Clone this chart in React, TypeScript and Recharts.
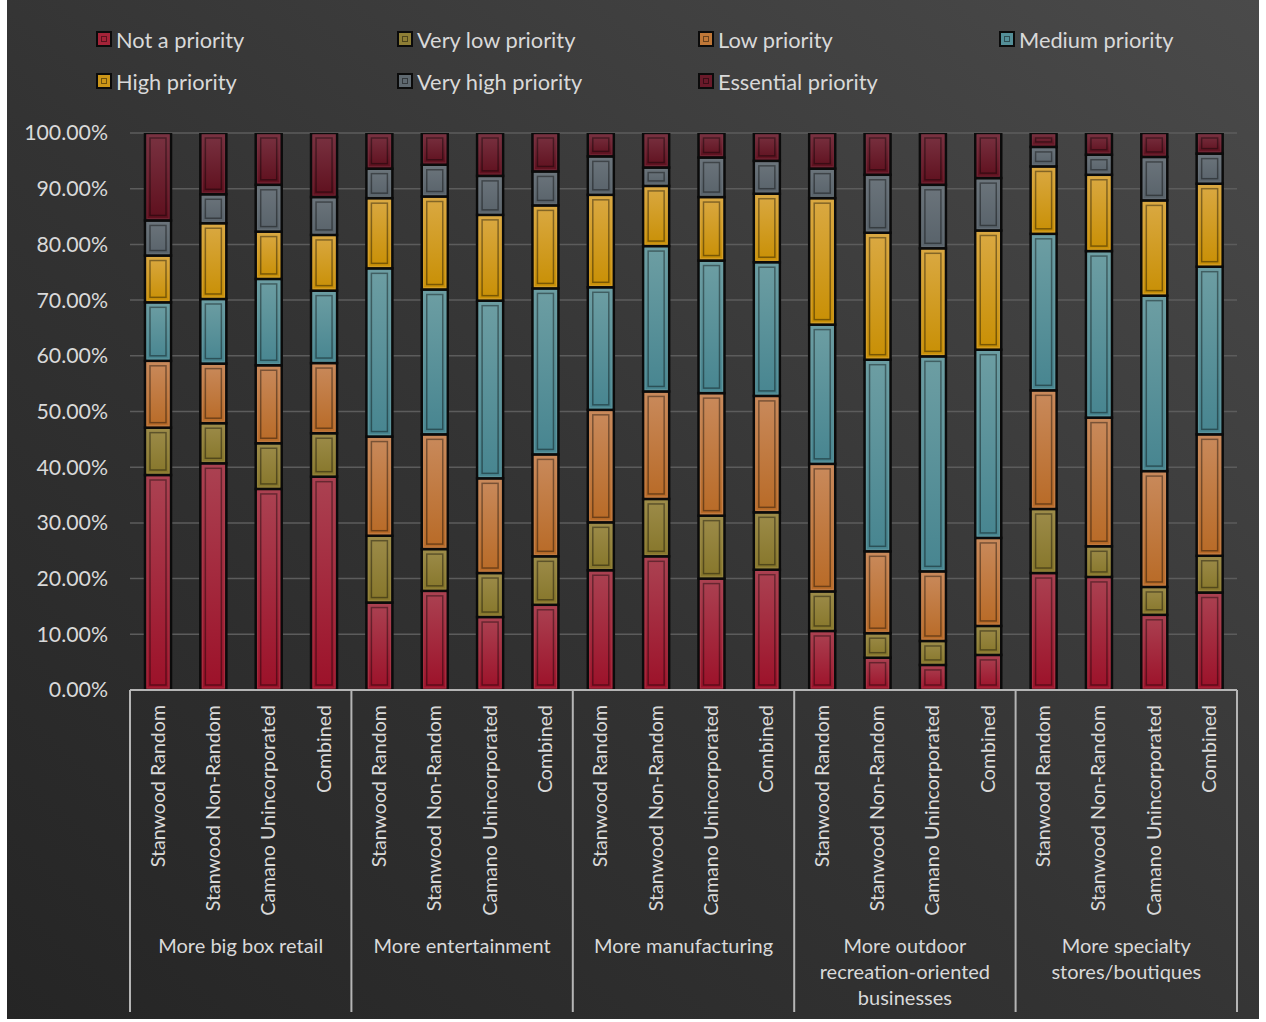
import React from 'react';
import { BarChart, Bar, XAxis, YAxis, CartesianGrid } from 'recharts';

const groupLabelLines: string[][] = [
  ['More big box retail'],
  ['More entertainment'],
  ['More manufacturing'],
  ['More outdoor', 'recreation-oriented', 'businesses'],
  ['More specialty', 'stores/boutiques'],
];
const respondentGroups = ['Stanwood Random', 'Stanwood Non-Random', 'Camano Unincorporated', 'Combined'];

const seriesNames = [
  'Not a priority',
  'Very low priority',
  'Low priority',
  'Medium priority',
  'High priority',
  'Very high priority',
  'Essential priority',
];

// values in percent, 20 bars: 5 topics x 4 respondent groups
const notAPriority = [38.6, 40.7, 36.1, 38.3, 15.7, 17.8, 13.1, 15.3, 21.5, 24.0, 20.0, 21.6, 10.6, 5.8, 4.5, 6.3, 21.0, 20.3, 13.5, 17.5];
const veryLowPriority = [8.5, 7.2, 8.2, 7.8, 12.0, 7.5, 7.9, 8.7, 8.6, 10.3, 11.3, 10.3, 7.1, 4.4, 4.3, 5.2, 11.5, 5.5, 5.0, 6.6];
const lowPriority = [12.0, 10.7, 14.0, 12.6, 17.8, 20.6, 17.0, 18.3, 20.2, 19.3, 22.0, 20.9, 22.9, 14.7, 12.5, 15.8, 21.3, 23.1, 20.8, 21.8];
const mediumPriority = [10.5, 11.6, 15.5, 13.0, 30.2, 26.0, 31.9, 29.8, 22.0, 26.1, 23.8, 24.0, 25.0, 34.4, 38.6, 33.8, 28.1, 29.9, 31.5, 30.1];
const highPriority = [8.4, 13.6, 8.5, 10.0, 12.6, 16.7, 15.4, 14.9, 16.6, 10.8, 11.4, 12.3, 22.7, 22.8, 19.4, 21.4, 12.1, 13.7, 17.1, 14.9];
const veryHighPriority = [6.3, 5.2, 8.4, 6.8, 5.3, 5.7, 7.0, 6.1, 6.9, 3.3, 7.1, 5.9, 5.3, 10.4, 11.4, 9.4, 3.5, 3.6, 7.8, 5.4];
const essentialPriority = [15.7, 11.0, 9.3, 11.5, 6.4, 5.7, 7.7, 6.9, 4.2, 6.2, 4.4, 5.0, 6.4, 7.5, 9.3, 8.1, 2.5, 3.9, 4.3, 3.7];

const seriesValues = [notAPriority, veryLowPriority, lowPriority, mediumPriority, highPriority, veryHighPriority, essentialPriority];

const yTicks = [0, 10, 20, 30, 40, 50, 60, 70, 80, 90, 100];

const baseColors = ['#9c1129', '#86762a', '#b86a26', '#478590', '#c88f04', '#58626a', '#5e0f1d'];
const topColors = ['#ab4252', '#9d8c4a', '#c98a5c', '#6d9ea3', '#daa943', '#6c757c', '#7a3342'];
const legendFill = ['#a42338', '#8e7e35', '#c07838', '#548f98', '#cc9618', '#5f6970', '#6a1a2a'];

const FONT = 'Lato, "Open Sans", sans-serif';
const TEXT = '#d9d9d9';

const data = groupLabelLines.flatMap((_, gi) =>
  respondentGroups.map((r, ri) => {
    const idx = gi * respondentGroups.length + ri;
    const row: any = { key: `${gi}|${r}`, group: gi, sub: ri, label: r };
    seriesValues.forEach((arr, si) => {
      row[`s${si}`] = arr[idx];
    });
    return row;
  })
);

const W = 1266;
const H = 1022;
const M_TOP = 133;
const M_RIGHT = 29;
const Y_W = 130;
const X_H = 332;
const PLOT_W = W - Y_W - M_RIGHT;

const CategoryTick = (props: any) => {
  const { x, y, payload } = props;
  const row = data.find((d) => d.key === payload.value);
  if (!row) return null;
  const band = payload.offset ? payload.offset * 2 : PLOT_W / data.length;
  const isLast = row.key === data[data.length - 1].key;
  const lineColor = '#b5b5b5';
  return (
    <g>
      <text
        x={x}
        y={y + 15}
        transform={`rotate(-90, ${x}, ${y + 15})`}
        textAnchor="end"
        dy="0.35em"
        fill={TEXT}
        fontSize={19.6}
        fontFamily={FONT}
      >
        {row.label}
      </text>
      {row.sub === 0 && (
        <line x1={x - band / 2} x2={x - band / 2} y1={y} y2={y + 322} stroke={lineColor} strokeWidth={2} />
      )}
      {isLast && (
        <line x1={x + band / 2} x2={x + band / 2} y1={y} y2={y + 322} stroke={lineColor} strokeWidth={2} />
      )}
      {row.sub === 0 &&
        groupLabelLines[row.group].map((ln, li) => (
          <text
            key={li}
            x={x - band / 2 + band * 2}
            y={y + 263 + li * 26}
            textAnchor="middle"
            fill={TEXT}
            fontSize={20}
            fontFamily={FONT}
          >
            {ln}
          </text>
        ))}
    </g>
  );
};

const YTick = (props: any) => {
  const { x, y, payload } = props;
  return (
    <text x={x} y={y} dy="0.35em" textAnchor="end" fill={TEXT} fontSize={21.3} fontFamily={FONT}>
      {`${Number(payload.value).toFixed(2)}%`}
    </text>
  );
};

const makeShape = (i: number) => (props: any) => {
  const { x, y, width, height } = props;
  if (!height || height <= 0) return null;
  const inset = 5;
  return (
    <g>
      <rect x={x} y={y} width={width} height={height} fill={`url(#grad${i})`} stroke="#0b0b0b" strokeWidth={2.5} />
      {height > 4 && (
        <rect
          x={x + 2}
          y={y + 2}
          width={width - 4}
          height={height - 4}
          fill="none"
          stroke={topColors[i]}
          strokeOpacity={0.6}
          strokeWidth={1}
        />
      )}
      {height > 2 * inset + 3 && (
        <rect
          x={x + inset}
          y={y + inset}
          width={width - 2 * inset}
          height={height - 2 * inset}
          fill="none"
          stroke="rgba(0,0,0,0.4)"
          strokeWidth={1.5}
        />
      )}
    </g>
  );
};

const Legend = () => {
  const cols = [96, 397, 698, 999];
  const rows = [40, 82];
  return (
    <>
      {seriesNames.map((name, i) => {
        const cx = cols[i % 4];
        const cy = rows[Math.floor(i / 4)];
        return (
          <div
            key={name}
            style={{
              position: 'absolute',
              left: cx,
              top: cy - 15,
              height: 28,
              display: 'flex',
              alignItems: 'center',
              fontFamily: FONT,
              fontSize: 21.8,
              color: TEXT,
              whiteSpace: 'nowrap',
            }}
          >
            <div
              style={{
                width: 12,
                height: 12,
                border: '2px solid #0b0b0b',
                background: legendFill[i],
                marginRight: 4,
                position: 'relative',
                boxSizing: 'content-box',
              }}
            >
              <div
                style={{
                  position: 'absolute',
                  left: 3,
                  top: 3,
                  width: 4,
                  height: 4,
                  border: '1px solid rgba(0,0,0,0.45)',
                }}
              />
            </div>
            <span>{name}</span>
          </div>
        );
      })}
    </>
  );
};

export default function App() {
  return (
    <div style={{ position: 'absolute', left: 0, top: 0, width: W, height: H, background: '#ffffff' }}>
      <div
        style={{
          position: 'absolute',
          left: 7,
          top: 0,
          width: 1252,
          height: 1019,
          background: 'linear-gradient(to top right, #252525 0%, #333333 45%, #4a4a4a 100%)',
        }}
      />
      <div style={{ position: 'absolute', left: 0, top: 0 }}>
        <BarChart
          width={W}
          height={H}
          data={data}
          margin={{ top: M_TOP, right: M_RIGHT, bottom: 0, left: 0 }}
          barSize={26}
        >
          <defs>
            {baseColors.map((c, i) => (
              <linearGradient key={i} id={`grad${i}`} x1="0" y1="0" x2="0" y2="1">
                <stop offset="0%" stopColor={topColors[i]} />
                <stop offset="100%" stopColor={c} />
              </linearGradient>
            ))}
          </defs>
          <CartesianGrid vertical={false} stroke="#5c5c5c" strokeWidth={1.5} />
          <XAxis
            dataKey="key"
            interval={0}
            height={X_H}
            tickSize={0}
            tickMargin={0}
            tickLine={false}
            axisLine={{ stroke: '#b5b5b5', strokeWidth: 2 }}
            tick={<CategoryTick />}
          />
          <YAxis
            width={Y_W}
            domain={[0, 100]}
            ticks={yTicks}
            allowDataOverflow
            tickSize={0}
            tickMargin={22}
            axisLine={false}
            tickLine={false}
            tick={<YTick />}
          />
          {seriesNames.map((name, i) => (
            <Bar
              key={name}
              dataKey={`s${i}`}
              name={name}
              stackId="a"
              fill={baseColors[i]}
              isAnimationActive={false}
              shape={makeShape(i)}
            />
          ))}
        </BarChart>
      </div>
      <Legend />
    </div>
  );
}
